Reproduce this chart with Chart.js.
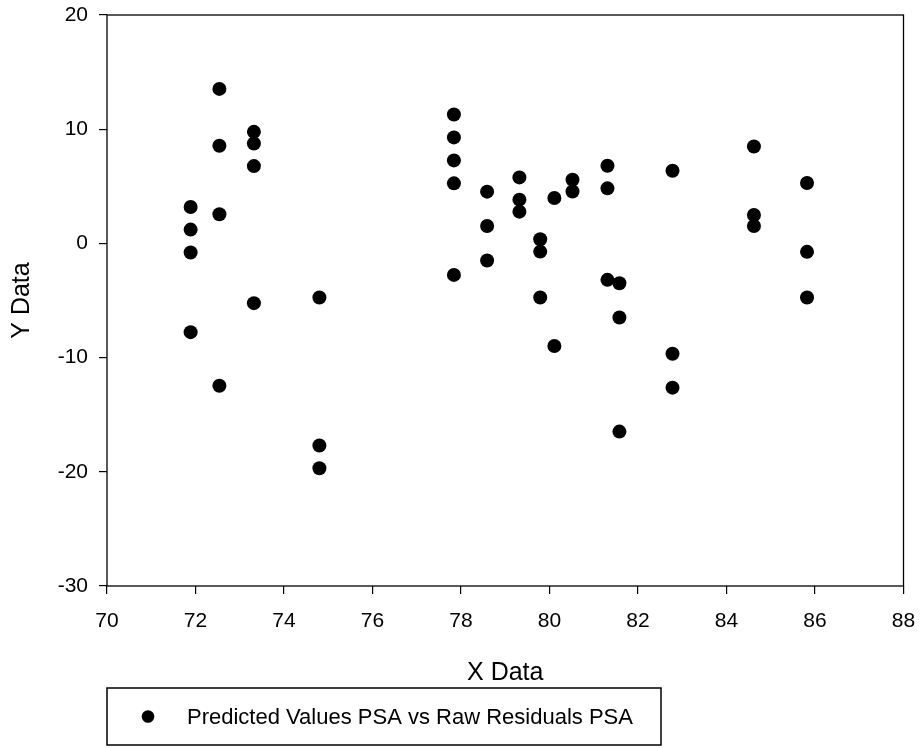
<!DOCTYPE html>
<html><head><meta charset="utf-8">
<script src="https://cdn.jsdelivr.net/npm/chart.js@4/dist/chart.umd.min.js"></script>
<style>html,body{margin:0;padding:0;background:#fff}canvas{display:block}</style>
</head><body>
<canvas id="c" width="920" height="748"></canvas>
<script>
const xValues = [
  71.89, 71.89, 71.89, 71.89,
  72.54, 72.54, 72.54, 72.54,
  73.32, 73.32, 73.32, 73.32,
  74.80, 74.80, 74.80,
  77.84, 77.84, 77.84, 77.84, 77.84,
  78.59, 78.59, 78.59,
  79.32, 79.32, 79.32,
  79.79, 79.79, 79.79,
  80.11, 80.11,
  80.52, 80.52,
  81.31, 81.31, 81.31,
  81.58, 81.58, 81.58,
  82.78, 82.78, 82.78,
  84.62, 84.62, 84.62,
  85.82, 85.82, 85.82
];
const yValues = [
  3.19, 1.21, -0.80, -7.77,
  13.53, 8.55, 2.55, -12.46,
  9.77, 8.75, 6.77, -5.23,
  -4.74, -17.70, -19.69,
  11.29, 9.28, 7.27, 5.26, -2.76,
  4.53, 1.53, -1.50,
  5.78, 3.83, 2.78,
  0.36, -0.72, -4.74,
  3.98, -8.99,
  5.58, 4.55,
  6.80, 4.82, -3.19,
  -3.49, -6.49, -16.48,
  6.36, -9.66, -12.63,
  8.49, 2.49, 1.53,
  5.29, -0.74, -4.74
];
const xTickValues = [70, 72, 74, 76, 78, 80, 82, 84, 86, 88];
const yTickValues = [-30, -20, -10, 0, 10, 20];
const seriesLabel = 'Predicted Values PSA vs Raw Residuals PSA';
const xTitle = 'X Data';
const yTitle = 'Y Data';

const FONT = "'Liberation Sans', Arial, sans-serif";
const points = xValues.map((x, i) => ({x: x, y: yValues[i]}));

const framePlugin = {
  id: 'frame',
  beforeDatasetsDraw(chart) {
    const {ctx, chartArea: a} = chart;
    ctx.save();
    ctx.strokeStyle = '#000';
    ctx.lineWidth = 1.3;
    ctx.strokeRect(a.left, a.top, a.right - a.left, a.bottom - a.top);
    ctx.restore();
  }
};

const legendBoxPlugin = {
  id: 'legendBox',
  afterDraw(chart) {
    const {ctx, chartArea: a} = chart;
    const ds = chart.data.datasets[0];
    const left = a.left, top = 688, w = 554, h = 57;
    ctx.save();
    ctx.strokeStyle = '#000';
    ctx.lineWidth = 1.5;
    ctx.strokeRect(left, top, w, h);
    const cy = top + h / 2;
    ctx.fillStyle = ds.pointBackgroundColor;
    ctx.beginPath();
    ctx.arc(left + 41, cy, 6.3, 0, Math.PI * 2);
    ctx.fill();
    ctx.fillStyle = '#000';
    ctx.font = '22px ' + FONT;
    ctx.textBaseline = 'middle';
    ctx.textAlign = 'left';
    ctx.fillText(ds.label, left + 80, cy + 1);
    ctx.restore();
  }
};

new Chart(document.getElementById('c'), {
  type: 'scatter',
  data: {
    datasets: [{
      label: seriesLabel,
      data: points,
      pointRadius: 7,
      pointHoverRadius: 7,
      pointBorderWidth: 0,
      pointBackgroundColor: '#000',
      pointBorderColor: '#000',
      showLine: false
    }]
  },
  options: {
    responsive: false,
    animation: false,
    devicePixelRatio: 1,
    layout: {padding: {top: 15, right: 16.5, bottom: 62, left: 0}},
    plugins: {legend: {display: false}, tooltip: {enabled: false}},
    scales: {
      x: {
        type: 'linear',
        min: xTickValues[0],
        max: xTickValues[xTickValues.length - 1],
        afterBuildTicks: s => { s.ticks = xTickValues.map(v => ({value: v})); },
        afterFit: s => { s.height = 100; s.paddingLeft = 0; s.paddingRight = 0; },
        border: {display: false},
        grid: {drawOnChartArea: false, drawTicks: true, tickLength: 8, color: '#000', lineWidth: 1.2},
        ticks: {color: '#000', font: {family: FONT, size: 21}, padding: 15, maxRotation: 0, autoSkip: false},
        title: {display: true, text: xTitle, color: '#000', font: {family: FONT, size: 25}, padding: {top: 0, bottom: -2}}
      },
      y: {
        type: 'linear',
        min: yTickValues[0],
        max: yTickValues[yTickValues.length - 1],
        afterBuildTicks: s => { s.ticks = yTickValues.map(v => ({value: v})); },
        afterFit: s => { s.width = 107; s.paddingTop = 0; s.paddingBottom = 0; },
        border: {display: false},
        grid: {drawOnChartArea: false, drawTicks: true, tickLength: 8, color: '#000', lineWidth: 1.2},
        ticks: {color: '#000', font: {family: FONT, size: 21}, padding: 11, autoSkip: false},
        title: {display: true, text: yTitle, color: '#000', font: {family: FONT, size: 25}, padding: {top: 7, bottom: 0}}
      }
    }
  },
  plugins: [framePlugin, legendBoxPlugin]
});
</script>
</body></html>
